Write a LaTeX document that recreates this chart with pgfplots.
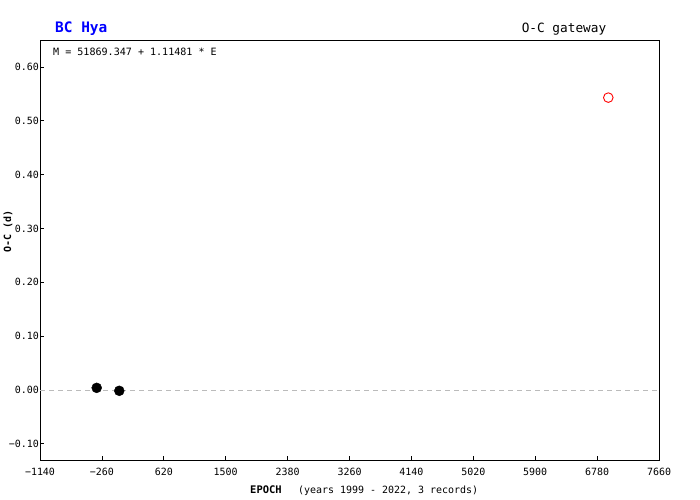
\documentclass[border=0pt]{standalone}
\usepackage{pgfplots}
\pgfplotsset{compat=1.18}
\usepackage{fontspec}
\setmainfont{DejaVu Sans Mono}
\setmonofont{DejaVu Sans Mono}
\definecolor{titleblue}{RGB}{0,0,255}
\definecolor{zerogray}{RGB}{187,187,187}
\begin{document}
\begin{tikzpicture}[x=1bp,y=1bp]
\useasboundingbox (0,0) rectangle (700,500);
\fill[white] (0,0) rectangle (700,500);
\begin{axis}[
  at={(40bp,40bp)}, anchor=south west,
  scale only axis, width=619bp, height=420bp,
  xmin=-1140, xmax=7660, ymin=-0.13, ymax=0.65,
  axis line style={line width=0.8bp},
  tick align=inside, tick pos=left,
  major tick length=4bp,
  tick style={black, line width=0.8bp},
  xtick={-1140,-260,620,1500,2380,3260,4140,5020,5900,6780,7660},
  xticklabels={−1140,−260,620,1500,2380,3260,4140,5020,5900,6780,7660},
  ytick={-0.1,0,0.1,0.2,0.3,0.4,0.5,0.6},
  yticklabels={−0.10,0.00,0.10,0.20,0.30,0.40,0.50,0.60},
  ticklabel style={font=\fontsize{10}{11}\selectfont},
  yticklabel style={inner sep=1bp},
  xticklabel style={inner sep=2bp, yshift=-5.5bp},
  clip=false,
]
\addplot[zerogray, line width=0.8bp, dash pattern=on 5bp off 4bp] coordinates {(-1140,0) (7660,0)};
\addplot[only marks, mark=*, mark size=5bp, mark options={fill=black, draw=black}] coordinates {
  (-334,0.004) (-13,-0.0015)
};
\addplot[only marks, mark=o, mark size=4.8bp, mark options={draw=red, line width=0.9bp}] coordinates {
  (6939,0.543)
};
\end{axis}
\node[anchor=base west, inner sep=0, text=titleblue, font=\fontsize{14.5}{16}\selectfont\bfseries] at (55,467) {BC Hya};
\node[anchor=base, inner sep=0, font=\fontsize{12.8}{14}\selectfont] at (564,467) {O-C gateway};
\node[anchor=base west, inner sep=0, font=\fontsize{10.1}{11}\selectfont] at (53,444) {M = 51869.347 + 1.11481 * E};
\node[rotate=90, inner sep=0, font=\fontsize{10}{11}\selectfont\bfseries] at (8,268.5) {O-C (d)};
\node[anchor=base west, inner sep=0, font=\fontsize{10.5}{11}\selectfont\bfseries] at (250,6) {EPOCH};
\node[anchor=base west, inner sep=0, font=\fontsize{10}{11}\selectfont] at (298,6) {(years 1999 - 2022, 3 records)};
\end{tikzpicture}
\end{document}
